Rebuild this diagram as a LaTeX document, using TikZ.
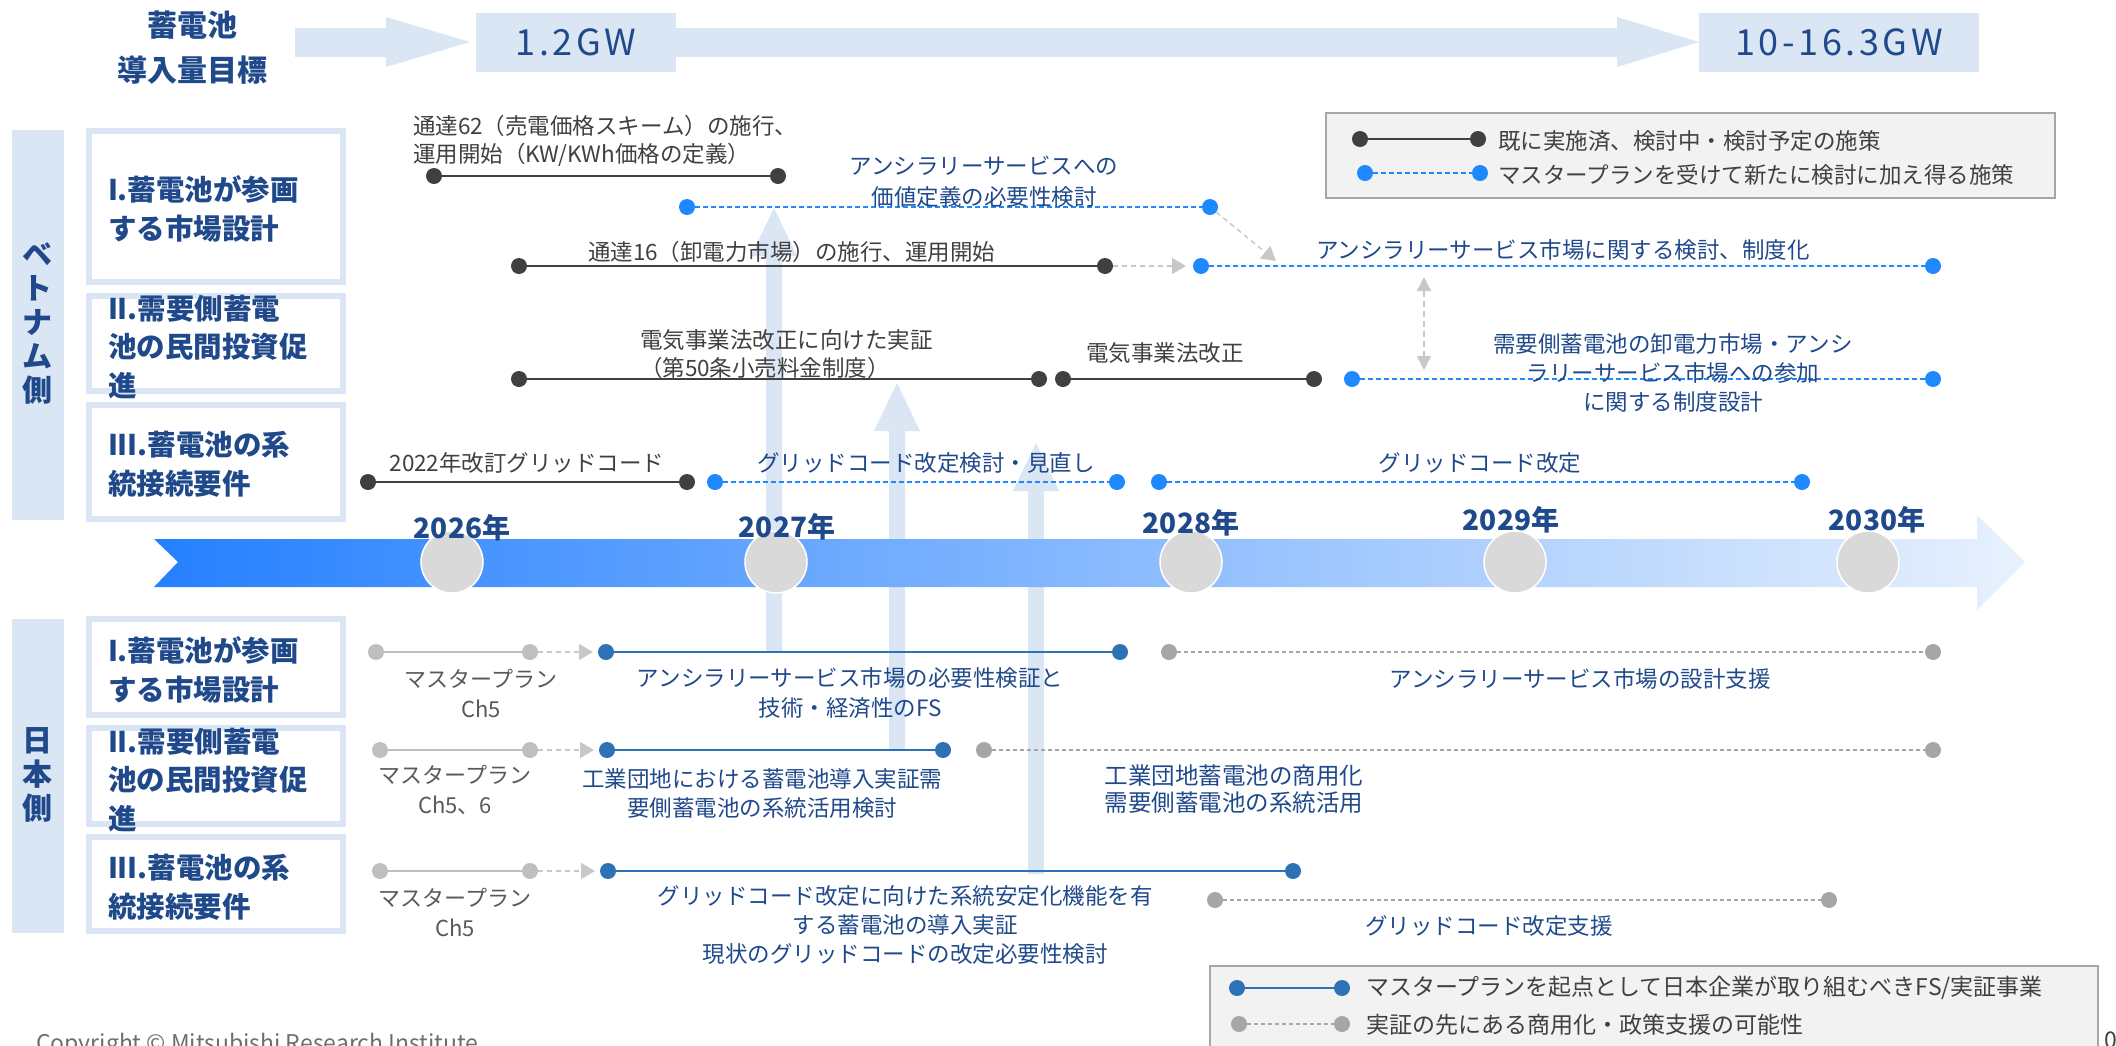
\documentclass[tikz,border=0pt]{standalone}
\usepackage{fontspec}
\setmainfont{Noto Sans CJK JP}
\usetikzlibrary{arrows.meta}
\definecolor{cLB}{RGB}{218,230,244}
\definecolor{cNavy}{RGB}{31,73,138}
\definecolor{cDark}{RGB}{64,64,64}
\definecolor{cMid}{RGB}{89,89,89}
\definecolor{cBright}{RGB}{30,136,255}
\definecolor{cJBlue}{RGB}{46,114,182}
\definecolor{cLGray}{RGB}{191,191,191}
\definecolor{cMGray}{RGB}{166,166,166}
\definecolor{cCirc}{RGB}{217,217,217}
\definecolor{cLegFill}{RGB}{242,242,242}
\definecolor{cTLa}{RGB}{37,128,255}
\definecolor{cTLb}{RGB}{232,241,253}
\definecolor{cCopy}{RGB}{110,110,110}
\definecolor{cArr}{RGB}{200,200,200}
\tikzset{
  every node/.style={inner sep=0pt, outer sep=0pt},
  body/.style={font=\fontsize{11.25}{14.5}\selectfont, text=cDark, align=center},
  btxt/.style={font=\fontsize{11.25}{14.5}\selectfont, text=cNavy, align=center},
  mptxt/.style={font=\fontsize{11}{15}\selectfont, text=cMid, align=center},
  lbl/.style={font=\bfseries\fontsize{14.25}{19.25}\selectfont, text=cNavy, align=left, anchor=west},
  side/.style={font=\bfseries\fontsize{15}{17}\selectfont, text=cNavy, align=center},
  yr/.style={font=\bfseries\fontsize{14}{16}\selectfont, text=cNavy},
  gw/.style={fill=cLB, text=cNavy, minimum height=29.5pt, font={\fontsize{18}{20}\selectfont\addfontfeatures{LetterSpace=10}}},
  rowbox/.style={draw=cLB, line width=3pt, fill=white},
  yearc/.style={circle, fill=cCirc, draw=white, line width=0.75pt, minimum size=31pt},
  dotb/.style={circle, minimum size=8pt},
  kdot/.style={dotb, fill=cDark},
  vdot/.style={dotb, fill=cBright},
  jdot/.style={dotb, fill=cJBlue},
  gdot/.style={dotb, fill=cLGray},
  mdot/.style={dotb, fill=cMGray},
  kline/.style={draw=cDark, line width=1pt},
  vline/.style={draw=cBright, line width=0.75pt, dash pattern=on 2.5pt off 1.5pt},
  jline/.style={draw=cJBlue, line width=1pt},
  gline/.style={draw=cLGray, line width=1.25pt},
  gdash/.style={draw=cMGray, line width=0.75pt, dash pattern=on 2pt off 1.5pt},
  garrow/.style={draw=cArr, line width=0.75pt, dash pattern=on 2.5pt off 2pt, -{Triangle[length=7pt,width=8pt]}},
  gdarrow/.style={draw=cArr, line width=0.75pt, dash pattern=on 3pt off 2pt, {Triangle[length=7pt,width=7pt]}-{Triangle[length=7pt,width=7pt]}},
  legbox/.style={draw=cMGray, line width=1.25pt, fill=cLegFill},
  bigup/.style={fill=cLB}
}
\begin{document}
\begin{tikzpicture}[x=0.5pt,y=-0.5pt]
\useasboundingbox (0,0) rectangle (2116,1045);

% ---------- big upward arrows (background)
\fill[bigup] (766,652) -- (766,256) -- (751,256) -- (774,208) -- (797,256) -- (782,256) -- (782,652) -- cycle;
\fill[bigup] (889,750) -- (889,431) -- (874,431) -- (897,383) -- (920,431) -- (905,431) -- (905,750) -- cycle;
\fill[bigup] (1028,874) -- (1028,491) -- (1013,491) -- (1036,443) -- (1059,491) -- (1044,491) -- (1044,874) -- cycle;

% ---------- top goal row
\node[font=\bfseries\fontsize{15}{22.5}\selectfont, text=cNavy, align=center] (goal) at (192,48) {蓄電池\\導入量目標};
\fill[cLB] (295,28) -- (386,28) -- (386,17) -- (470,42) -- (386,67) -- (386,57) -- (295,57) -- cycle;
\node[gw, minimum width=100pt] (gw1) at (576,42.5) {1.2GW};
\fill[cLB] (676,28) -- (1617,28) -- (1617,17) -- (1699,42) -- (1617,67) -- (1617,57) -- (676,57) -- cycle;
\node[gw, minimum width=140pt] (gw2) at (1839,42.5) {10-16.3GW};

% ---------- side bars
\fill[cLB] (12,130) rectangle (64,520);
\node[side] (vside) at (38,324) {ベ\\ト\\ナ\\ム\\側};
\fill[cLB] (12,619) rectangle (64,933);
\node[side] (jside) at (38,775) {日\\本\\側};

% ---------- row boxes
\draw[rowbox] (89,131) rectangle (343,282);
\draw[rowbox] (89,296) rectangle (343,391);
\draw[rowbox] (89,405) rectangle (343,519);
\draw[rowbox] (89,619) rectangle (343,715);
\draw[rowbox] (89,728) rectangle (343,824);
\draw[rowbox] (89,837) rectangle (343,931);
\node[lbl] (vl1) at (108,209) {I.蓄電池が参画\\する市場設計};
\node[lbl] (vl2) at (108,347) {II.需要側蓄電\\池の民間投資促\\進};
\node[lbl] (vl3) at (108,464) {III.蓄電池の系\\統接続要件};
\node[lbl] (jl1) at (108,670) {I.蓄電池が参画\\する市場設計};
\node[lbl] (jl2) at (108,780) {II.需要側蓄電\\池の民間投資促\\進};
\node[lbl] (jl3) at (108,887) {III.蓄電池の系\\統接続要件};

% ---------- timeline
\shade[left color=cTLa, right color=cTLb] (154,539) -- (1977,539) -- (1977,515) -- (2025,562) -- (1977,610) -- (1977,587) -- (154,587) -- (178,562) -- cycle;
\node[yearc] (c26) at (452,562) {};
\node[yearc] (c27) at (776,562) {};
\node[yearc] (c28) at (1191,562) {};
\node[yearc] (c29) at (1515,562) {};
\node[yearc] (c30) at (1868,562) {};
\node[yr] (y26) at (462,528) {2026年};
\node[yr] (y27) at (787,527) {2027年};
\node[yr] (y28) at (1191,523) {2028年};
\node[yr] (y29) at (1511,520) {2029年};
\node[yr] (y30) at (1877,520) {2030年};

% ---------- Vietnam side
\node[kdot] (a1) at (434,176) {};
\node[kdot] (a2) at (778,176) {};
\draw[kline] (a1) -- (a2);
\node[body, anchor=west, align=left, font=\fontsize{11.25}{14}\selectfont] (t1) at (413,141) {通達62（売電価格スキーム）の施行、\\運用開始（KW/KWh価格の定義）};

\node[vdot] (b1) at (687,207) {};
\node[vdot] (b2) at (1210,207) {};
\draw[vline] (b1) -- (b2);
\node[btxt, font=\fontsize{11.25}{15.5}\selectfont] (t2) at (984,182) {アンシラリーサービスへの\\価値定義の必要性検討};
\coordinate (d1e) at (1276,261);
\draw[garrow] (b2) -- (d1e);

\node[kdot] (c1) at (519,266) {};
\node[kdot] (c2) at (1105,266) {};
\draw[kline] (c1) -- (c2);
\node[body, anchor=west] (t3) at (588,252) {通達16（卸電力市場）の施行、運用開始};
\node[vdot] (c3) at (1201,266) {};
\draw[garrow, shorten >=3.5pt] (c2) -- (c3);
\node[vdot] (c4) at (1933,266) {};
\draw[vline] (c3) -- (c4);
\node[btxt] (t4) at (1563,250) {アンシラリーサービス市場に関する検討、制度化};

\coordinate (e1) at (1424,277);
\coordinate (e2) at (1424,370);
\draw[gdarrow] (e1) -- (e2);

\node[kdot] (f1) at (519,379) {};
\node[kdot] (f2) at (1039,379) {};
\draw[kline] (f1) -- (f2);
\node[body, anchor=west, align=left, font=\fontsize{11.25}{14}\selectfont] (t5) at (640,354) {電気事業法改正に向けた実証\\（第50条小売料金制度）};
\node[kdot] (f3) at (1063,379) {};
\node[kdot] (f4) at (1314,379) {};
\draw[kline] (f3) -- (f4);
\node[body] (t6) at (1165,353) {電気事業法改正};
\node[vdot] (f5) at (1352,379) {};
\node[vdot] (f6) at (1933,379) {};
\draw[vline] (f5) -- (f6);
\node[btxt] (t7) at (1673,373) {需要側蓄電池の卸電力市場・アンシ\\ラリーサービス市場への参加\\に関する制度設計};

\node[kdot] (g1) at (368,482) {};
\node[kdot] (g2) at (687,482) {};
\draw[kline] (g1) -- (g2);
\node[body] (t8) at (527,463) {2022年改訂グリッドコード};
\node[vdot] (g3) at (715,482) {};
\node[vdot] (g4) at (1117,482) {};
\draw[vline] (g3) -- (g4);
\node[btxt] (t9) at (926,463) {グリッドコード改定検討・見直し};
\node[vdot] (g5) at (1159,482) {};
\node[vdot] (g6) at (1802,482) {};
\draw[vline] (g5) -- (g6);
\node[btxt] (t10) at (1480,463) {グリッドコード改定};

% ---------- Japan side
\node[gdot] (h1) at (376,652) {};
\node[gdot] (h2) at (530,652) {};
\draw[gline] (h1) -- (h2);
\node[jdot] (h3) at (606,652) {};
\draw[garrow, shorten >=2.5pt] (h2) -- (h3);
\node[jdot] (h4) at (1120,652) {};
\draw[jline] (h3) -- (h4);
\node[mdot] (h5) at (1169,652) {};
\node[mdot] (h6) at (1933,652) {};
\draw[gdash] (h5) -- (h6);
\node[mptxt] (m1) at (481,693) {マスタープラン\\Ch5};
\node[btxt, font=\fontsize{11.25}{15}\selectfont] (u1) at (850,693) {アンシラリーサービス市場の必要性検証と\\技術・経済性のFS};
\node[btxt] (u2) at (1580,679) {アンシラリーサービス市場の設計支援};

\node[gdot] (i1) at (380,750) {};
\node[gdot] (i2) at (530,750) {};
\draw[gline] (i1) -- (i2);
\node[jdot] (i3) at (607,750) {};
\draw[garrow, shorten >=2.5pt] (i2) -- (i3);
\node[jdot] (i4) at (943,750) {};
\draw[jline] (i3) -- (i4);
\node[mdot] (i5) at (984,750) {};
\node[mdot] (i6) at (1933,750) {};
\draw[gdash] (i5) -- (i6);
\node[mptxt] (m2) at (455,790) {マスタープラン\\Ch5、6};
\node[btxt] (u3) at (762,793) {工業団地における蓄電池導入実証需\\要側蓄電池の系統活用検討};
\node[btxt, font=\fontsize{11.75}{13.75}\selectfont] (u4) at (1234,789) {工業団地蓄電池の商用化\\需要側蓄電池の系統活用};

\node[gdot] (k1) at (380,871) {};
\node[gdot] (k2) at (530,871) {};
\draw[gline] (k1) -- (k2);
\node[jdot] (k3) at (608,871) {};
\draw[garrow, shorten >=2.5pt] (k2) -- (k3);
\node[jdot] (k4) at (1293,871) {};
\draw[jline] (k3) -- (k4);
\node[mdot] (k5) at (1215,900) {};
\node[mdot] (k6) at (1829,900) {};
\draw[gdash] (k5) -- (k6);
\node[mptxt] (m3) at (455,912) {マスタープラン\\Ch5};
\node[btxt] (u5) at (905,925) {グリッドコード改定に向けた系統安定化機能を有\\する蓄電池の導入実証\\現状のグリッドコードの改定必要性検討};
\node[btxt] (u6) at (1489,926) {グリッドコード改定支援};

% ---------- legend top
\draw[legbox] (1326,113) rectangle (2055,198);
\node[kdot] (la) at (1360,139) {};
\node[kdot] (lb) at (1478,139) {};
\draw[kline] (la) -- (lb);
\node[body, anchor=west] (lt1) at (1498,141) {既に実施済、検討中・検討予定の施策};
\node[vdot] (lc) at (1365,173) {};
\node[vdot] (ld) at (1480,173) {};
\draw[vline] (lc) -- (ld);
\node[body, anchor=west] (lt2) at (1498,175) {マスタープランを受けて新たに検討に加え得る施策};

% ---------- legend bottom
\draw[legbox] (1210,966) rectangle (2098,1070);
\node[jdot] (le) at (1237,988) {};
\node[jdot] (lf) at (1342,988) {};
\draw[jline] (le) -- (lf);
\node[body, anchor=west, font=\fontsize{11.5}{14}\selectfont] (lt3) at (1366,988) {マスタープランを起点として日本企業が取り組むべきFS/実証事業};
\node[mdot] (lg) at (1239,1024) {};
\node[mdot] (lh) at (1342,1024) {};
\draw[gdash] (lg) -- (lh);
\node[body, anchor=west, font=\fontsize{11.5}{14}\selectfont] (lt4) at (1366,1025) {実証の先にある商用化・政策支援の可能性};

% ---------- footer
\node[anchor=north west, font=\fontsize{11.5}{13}\selectfont, text=cCopy] (copy) at (36,1033) {Copyright © Mitsubishi Research Institute};
\node[anchor=west, font=\fontsize{11.5}{13}\selectfont, text=cDark] (pg) at (2104,1040) {0};
\end{tikzpicture}
\end{document}
